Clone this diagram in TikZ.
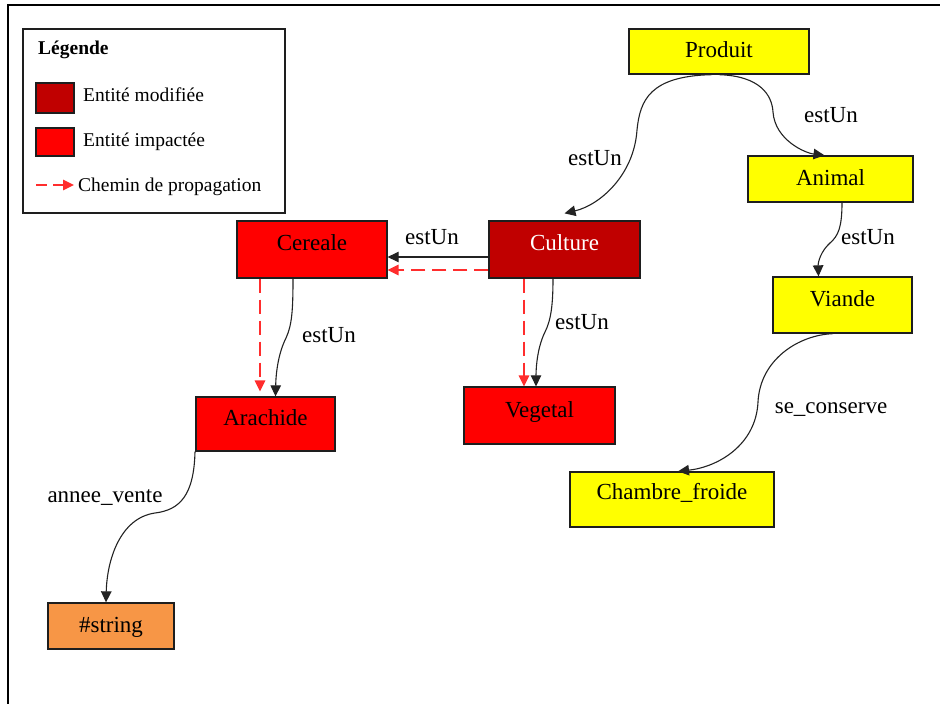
\documentclass[tikz,border=0pt]{standalone}
\usepackage{fontspec}
\setmainfont{Liberation Serif}
\usetikzlibrary{arrows.meta}
\definecolor{modcol}{RGB}{192,0,0}
\definecolor{impcol}{RGB}{255,0,0}
\definecolor{conceptcol}{RGB}{255,255,0}
\definecolor{literalcol}{RGB}{247,150,70}
\definecolor{propcol}{RGB}{255,45,45}
\definecolor{edgecol}{RGB}{35,35,35}
\definecolor{bordercol}{RGB}{30,30,30}

\begin{document}
\begin{tikzpicture}[x=1pt,y=-1pt,
  box/.style={draw=bordercol,line width=1.3pt,inner sep=0pt,
    text height=16pt,text depth=4pt,
    font=\fontsize{23}{27}\selectfont},
  concept/.style={box,fill=conceptcol},
  modified/.style={box,fill=modcol,text=white},
  impacted/.style={box,fill=impcol},
  literal/.style={box,fill=literalcol},
  lbl/.style={inner sep=0pt,font=\fontsize{23}{27}\selectfont},
  legtext/.style={inner sep=0pt,anchor=base west,font=\fontsize{19.5}{23}\selectfont},
  edge/.style={draw=edgecol,line width=1.1pt,-{Triangle[length=11pt,width=10.5pt]}},
  prop/.style={draw=propcol,line width=1.6pt,dash pattern=on 14pt off 7pt,
    -{Triangle[length=11pt,width=10.5pt,fill=propcol]}},
]
\useasboundingbox (0,0) rectangle (940,704);
\fill[white] (0,0) rectangle (940,704);

% outer frame (top and left edges)
\draw[line width=2pt,black] (8,704) -- (8,5) -- (940,5);

% legend
\node[draw=bordercol,line width=1.3pt,minimum width=262pt,minimum height=184pt,inner sep=0pt] (legend) at (154,121) {};
\node[legtext,font=\fontsize{19.5}{23}\selectfont\bfseries] (legtitle) at (38,54) {Légende};
\node[draw=bordercol,line width=1.2pt,fill=modcol,minimum width=38pt,minimum height=30pt,inner sep=0pt] (swmod) at (55,98) {};
\node[legtext] (txmod) at (83,101.5) {Entité modifiée};
\node[draw=bordercol,line width=1.2pt,fill=impcol,minimum width=38pt,minimum height=28pt,inner sep=0pt] (swimp) at (55,142) {};
\node[legtext] (tximp) at (83,146.5) {Entité impactée};
\coordinate (pa) at (36,185);
\coordinate (pb) at (74,185);
\draw[prop,dash pattern=on 11pt off 6pt] (pa) -- (pb);
\node[legtext] (txprop) at (78,191) {Chemin de propagation};

% entities
\node[concept,minimum width=180pt,minimum height=45pt] (produit) at (719,51.5) {Produit};
\node[concept,minimum width=165pt,minimum height=46pt] (animal) at (830.5,179) {Animal};
\node[concept,minimum width=139pt,minimum height=56pt] (viande) at (842.5,305) {\raisebox{5pt}{Viande}};
\node[modified,minimum width=151pt,minimum height=57pt] (culture) at (564.5,249.5) {\raisebox{5pt}{Culture}};
\node[impacted,minimum width=150pt,minimum height=57pt] (cereale) at (312,249.5) {\raisebox{5pt}{Cereale}};
\node[impacted,minimum width=151pt,minimum height=57pt] (vegetal) at (539.5,415.5) {\raisebox{4pt}{Vegetal}};
\node[impacted,minimum width=139pt,minimum height=54pt] (arachide) at (265.5,424) {\raisebox{5pt}{Arachide}};
\node[literal,minimum width=126pt,minimum height=46pt] (string) at (111,626) {\#string};
\node[concept,minimum width=204pt,minimum height=55pt] (chambre) at (672,499.5) {\raisebox{6pt}{Chambre\_froide}};

% relations
\draw[edge] ([xshift=-7pt]produit.south) .. controls (650,76) and (640,100) .. (637,130)
  .. controls (634,175) and (600,205) .. ([yshift=7pt]culture.north);
\node[lbl] (l1) at (595,158) {estUn};

\draw[edge] (produit.south) .. controls (760,76) and (772,95) .. (773,112)
  .. controls (775,140) and (805,153) .. ([xshift=-6pt]animal.north);
\node[lbl] (l2) at (831,115) {estUn};

\draw[edge] ([xshift=11.5pt]animal.south) .. controls (842,228) and (838,236) .. (830,243)
  .. controls (821,251) and (818,262) .. ([xshift=-24pt]viande.north);
\node[lbl] (l3) at (868,237) {estUn};

\draw[edge] ([xshift=-9.5pt]viande.south) .. controls (798,335) and (760,360) .. (758,402)
  .. controls (756,445) and (718,467) .. ([xshift=6pt]chambre.north);
\node[lbl] (l4) at (831,410) {se\_conserve};

\draw[edge] ([yshift=-7.5pt]culture.west) -- ([yshift=-7.5pt]cereale.east);
\draw[prop] ([yshift=-20.5pt]culture.west) -- ([yshift=-20.5pt]cereale.east);
\node[lbl] (l5) at (432,237) {estUn};

\draw[edge] ([xshift=-11.5pt]culture.south) .. controls (553,305) and (551,320) .. (545,332)
  .. controls (538,346) and (536,365) .. ([xshift=-3.5pt]vegetal.north);
\draw[prop] ([xshift=-40.5pt]culture.south) -- ([xshift=-40.5pt]culture.south |- vegetal.north);
\node[lbl] (l6) at (582,322) {estUn};

\draw[edge] ([xshift=-19pt]cereale.south) .. controls (293,310) and (292,325) .. (286,338)
  .. controls (279,352) and (276,370) .. ([xshift=10pt]arachide.north);
\draw[prop,shorten >=5pt] ([xshift=-52pt]cereale.south) -- ([xshift=-52pt]cereale.south |- arachide.north);
\node[lbl] (l7) at (329,335) {estUn};

\draw[edge] ([xshift=-70.5pt]arachide.south) .. controls (194,495) and (180,510) .. (155,513)
  .. controls (120,518) and (107,560) .. ([xshift=-5pt]string.north);
\node[lbl] (l8) at (105,498) {annee\_vente};
\end{tikzpicture}
\end{document}
